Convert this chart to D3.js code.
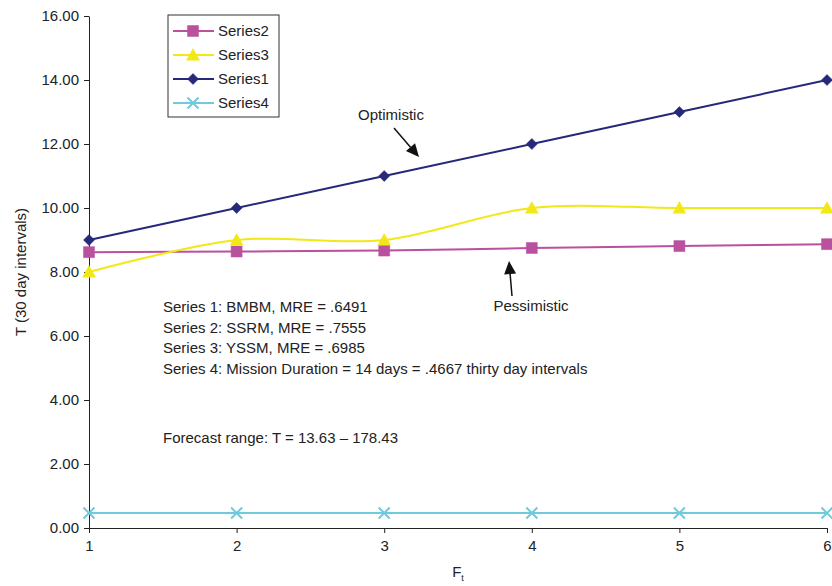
<!DOCTYPE html>
<html>
<head>
<meta charset="utf-8">
<script src="https://cdn.jsdelivr.net/npm/d3@7"></script>
<style>
  body { margin: 0; background: #fff; }
  svg { font-family: "Liberation Sans", Arial, Helvetica, sans-serif; }
</style>
</head>
<body>
<div id="chart"></div>
<script>
const WIDTH = 832;
const HEIGHT = 586;
const MARGIN = { LEFT: 89, RIGHT: 5, TOP: 16, BOTTOM: 58 };
const FONT = "15px";

const fValues = [1, 2, 3, 4, 5, 6];
const series1 = [9, 10, 11, 12, 13, 14];
const series2 = [8.62, 8.64, 8.67, 8.75, 8.81, 8.87];
const series3 = [8, 9, 9, 10, 10, 10];
const series4 = [0.4667, 0.4667, 0.4667, 0.4667, 0.4667, 0.4667];
const yTicks = [0, 2, 4, 6, 8, 10, 12, 14, 16];

const legendOrder = ["Series2", "Series3", "Series1", "Series4"];
const notes = [
  "Series 1: BMBM, MRE = .6491",
  "Series 2: SSRM, MRE = .7555",
  "Series 3: YSSM, MRE = .6985",
  "Series 4: Mission Duration = 14 days = .4667 thirty day intervals",
];
const forecastNote = "Forecast range: T = 13.63 \u2013 178.43";

const SERIES = {
  Series1: { values: series1, color: "#26287a", marker: "diamond", smooth: false },
  Series2: { values: series2, color: "#b9519f", marker: "square", smooth: true },
  Series3: { values: series3, color: "#f2e817", marker: "triangle", smooth: true },
  Series4: { values: series4, color: "#70c9dc", marker: "cross", smooth: false },
};

const innerWidth = WIDTH - MARGIN.LEFT - MARGIN.RIGHT;
const innerHeight = HEIGHT - MARGIN.TOP - MARGIN.BOTTOM;

const x = d3.scaleLinear([1, 6], [0, innerWidth]);
const y = d3.scaleLinear([0, 16], [innerHeight, 0]);

const svg = d3
  .select("#chart")
  .append("svg")
  .attr("width", WIDTH)
  .attr("height", HEIGHT);

const g = svg
  .append("g")
  .attr("transform", `translate(${MARGIN.LEFT}, ${MARGIN.TOP})`);

// axes
const xAxis = d3.axisBottom(x).tickValues(fValues).tickFormat(d3.format("d")).tickSize(5).tickPadding(7);
const yAxis = d3.axisLeft(y).tickValues(yTicks).tickFormat(d3.format(".2f")).tickSize(5).tickPadding(5);

const styleAxis = (sel) => {
  sel.select(".domain").attr("stroke", "#222");
  sel.selectAll(".tick line").attr("stroke", "#222");
  sel.selectAll("text").attr("fill", "#222").style("font-size", FONT);
};

g.append("g")
  .attr("transform", `translate(0, ${innerHeight})`)
  .call(xAxis.tickSizeOuter(0))
  .call(styleAxis);

g.append("g").call(yAxis.tickSizeOuter(0)).call(styleAxis);

// axis titles
g.append("text")
  .attr("transform", "rotate(-90)")
  .attr("x", -innerHeight / 2)
  .attr("y", -63)
  .attr("text-anchor", "middle")
  .attr("fill", "#222")
  .style("font-size", FONT)
  .text("T (30 day intervals)");

const xTitle = g
  .append("text")
  .attr("x", innerWidth / 2)
  .attr("y", innerHeight + 49)
  .attr("text-anchor", "middle")
  .attr("fill", "#222")
  .style("font-size", FONT);
xTitle.append("tspan").text("F");
xTitle.append("tspan").attr("dy", 4).style("font-size", "9px").text("t");

// markers
const markerPath = (type, size) => {
  const h = size / 2;
  switch (type) {
    case "square":
      return `M${-h},${-h}H${h}V${h}H${-h}Z`;
    case "diamond":
      return `M0,${-h}L${h},0L0,${h}L${-h},0Z`;
    case "triangle":
      return `M0,${-h}L${h},${h * 0.8}L${-h},${h * 0.8}Z`;
    default:
      return `M${-h},${-h}L${h},${h}M${h},${-h}L${-h},${h}`;
  }
};

const drawMarker = (sel, s) => {
  const size = s.marker === "triangle" ? 13 : 11;
  sel
    .append("path")
    .attr("d", markerPath(s.marker, size))
    .attr("fill", s.marker === "cross" ? "none" : s.color)
    .attr("stroke", s.color)
    .attr("stroke-width", s.marker === "cross" ? 2 : 0.5);
};

// series lines, drawn back to front
["Series4", "Series2", "Series3", "Series1"].forEach((name) => {
  const s = SERIES[name];
  const pts = fValues.map((f, i) => [f, s.values[i]]);
  const line = d3
    .line()
    .x((d) => x(d[0]))
    .y((d) => y(d[1]))
    .curve(s.smooth ? d3.curveCardinal.tension(0) : d3.curveLinear);

  g.append("path")
    .attr("d", line(pts))
    .attr("fill", "none")
    .attr("stroke", s.color)
    .attr("stroke-width", 2);

  pts.forEach((d) => {
    const m = g.append("g").attr("transform", `translate(${x(d[0])}, ${y(d[1])})`);
    drawMarker(m, s);
  });
});

// legend
const legend = svg.append("g").attr("transform", "translate(168, 15)");
legend
  .append("rect")
  .attr("width", 111)
  .attr("height", 102)
  .attr("fill", "#fff")
  .attr("stroke", "#333")
  .attr("stroke-width", 1);

legendOrder.forEach((name, i) => {
  const s = SERIES[name];
  const row = legend.append("g").attr("transform", `translate(0, ${16 + i * 24})`);
  row
    .append("line")
    .attr("x1", 5)
    .attr("x2", 46)
    .attr("stroke", s.color)
    .attr("stroke-width", 2);
  drawMarker(row.append("g").attr("transform", "translate(25, 0)"), s);
  row
    .append("text")
    .attr("x", 50)
    .attr("dy", "0.35em")
    .attr("fill", "#222")
    .style("font-size", FONT)
    .text(name);
});

// annotations
const annotation = (label, tx, ty, from, to) => {
  svg
    .append("text")
    .attr("x", tx)
    .attr("y", ty)
    .attr("text-anchor", "middle")
    .attr("fill", "#222")
    .style("font-size", FONT)
    .text(label);

  const dx = to[0] - from[0];
  const dy = to[1] - from[1];
  const len = Math.hypot(dx, dy);
  const ux = dx / len;
  const uy = dy / len;
  const headLen = 13;
  const headW = 6;
  const bx = to[0] - ux * headLen;
  const by = to[1] - uy * headLen;

  svg
    .append("line")
    .attr("x1", from[0])
    .attr("y1", from[1])
    .attr("x2", bx)
    .attr("y2", by)
    .attr("stroke", "#111")
    .attr("stroke-width", 1.5);

  svg
    .append("path")
    .attr(
      "d",
      `M${to[0]},${to[1]}L${bx - uy * headW},${by + ux * headW}L${bx + uy * headW},${by - ux * headW}Z`
    )
    .attr("fill", "#111");
};

annotation("Optimistic", 391, 120, [394, 128], [419, 157]);
annotation("Pessimistic", 531, 311, [512, 296], [509, 261]);

// notes
const notesGroup = svg.append("g").attr("transform", "translate(163, 0)");
notes.forEach((t, i) => {
  notesGroup
    .append("text")
    .attr("y", 312 + i * 20.5)
    .attr("fill", "#222")
    .style("font-size", FONT)
    .text(t);
});
notesGroup
  .append("text")
  .attr("y", 443)
  .attr("fill", "#222")
  .style("font-size", FONT)
  .text(forecastNote);
</script>
</body>
</html>
